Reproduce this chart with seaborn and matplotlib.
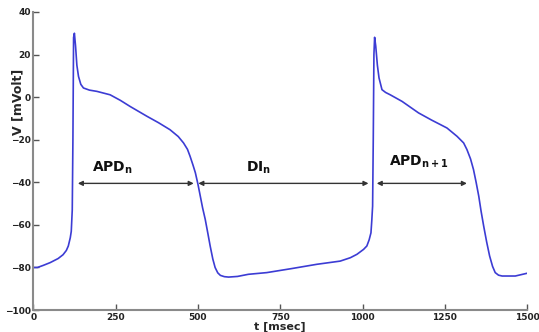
import matplotlib
matplotlib.use("Agg")
import matplotlib.pyplot as plt
import seaborn as sns
import pandas as pd

# Membrane potential trace (t in msec, V in mVolt)
t_ms = [0, 12, 30, 51, 75, 90, 100, 106, 112, 115, 118, 120, 122, 124.5, 128, 132, 137, 144, 152,
        170, 193, 233, 264, 294, 345, 380, 415, 440, 456, 468, 476, 485, 492, 500, 507, 514, 522,
        530, 537, 545, 552, 560, 568, 580, 593, 620, 653, 709, 785, 861, 932, 963, 983, 1003,
        1013, 1020, 1025.5, 1028, 1030.5, 1032.5, 1034.5, 1036.6, 1040, 1045, 1050, 1059, 1070,
        1084, 1120, 1170, 1210, 1236.5, 1256.5, 1287, 1307, 1317, 1328, 1337, 1345, 1353, 1360,
        1368, 1377, 1386, 1395, 1403, 1413, 1424, 1464, 1500]
v_mv = [-80, -80, -79, -77.7, -75.8, -74, -72, -69.9, -66, -63, -53, -20, 28, 30, 24, 15, 9.7, 6, 4.3,
        3.3, 2.7, 1.1, -1.5, -4.4, -9, -12, -15.3, -18.5, -21.5, -24.5, -27.8, -32, -35.5, -41, -46.5,
        -52, -57.4, -64, -69.9, -76, -80, -82.5, -83.7, -84.3, -84.5, -84.2, -83.2, -82.4, -80.5,
        -78.5, -77, -75.4, -73.8, -71.5, -69.9, -67, -63.7, -58, -51.2, -20, 20, 28.1, 24, 15, 9,
        3.5, 2.2, 1.1, -2, -7.4, -10.8, -12.9, -14.5, -18.4, -21.5, -24.6, -29, -34, -40, -46.5,
        -53.5, -60.6, -68, -74.6, -79.5, -82.4, -83.6, -84, -84, -82.7]

# Interval annotations
interval_labels = ["APD$_{n}$", "DI$_{n}$", "APD$_{n+1}$"]
interval_start = [135, 501, 1043]
interval_end = [487, 1018, 1317]
interval_v = [-40.5, -40.5, -40.5]
label_t = [240, 683, 1170]
label_v = [-35, -35, -32]

x_ticks = [0, 250, 500, 750, 1000, 1250, 1500]
y_ticks = [-100, -80, -60, -40, -20, 0, 20, 40]

sns.set_theme(style="white")
plt.rcParams["mathtext.default"] = "bf"
plt.rcParams["font.family"] = ["DejaVu Sans"]

fig = plt.figure(figsize=(5.39, 3.32), dpi=100)
ax = fig.add_axes([0.062, 0.066, 0.916, 0.898])

df = pd.DataFrame({"t": t_ms, "V": v_mv})
sns.lineplot(data=df, x="t", y="V", ax=ax, color="#3c3cd4", linewidth=1.2,
             estimator=None, sort=False)

for a, b, v in zip(interval_start, interval_end, interval_v):
    ax.annotate("", xy=(b, v), xytext=(a, v),
                arrowprops=dict(arrowstyle="<|-|>", color="#333333", lw=1.0,
                                mutation_scale=7, shrinkA=0, shrinkB=0))
for lab, x, y in zip(interval_labels, label_t, label_v):
    ax.text(x, y, lab, ha="center", va="baseline", fontsize=10, fontweight="bold", color="#111111")

ax.set_xlim(0, 1500)
ax.set_ylim(-100, 40)
ax.set_xticks(x_ticks)
ax.set_yticks(y_ticks)
ax.set_xticklabels([str(v) for v in x_ticks])
ax.set_yticklabels([str(v).replace("-", "\u2212") for v in y_ticks])
ax.tick_params(direction="in", length=4, width=1, color="#555555", labelsize=6.5,
               labelcolor="#222222", pad=2, left=True, bottom=True)
for lbl in ax.get_xticklabels() + ax.get_yticklabels():
    lbl.set_fontweight("bold")

for s in ["top", "right"]:
    ax.spines[s].set_visible(False)
for s in ["left", "bottom"]:
    ax.spines[s].set_color("#8a8a8a")
    ax.spines[s].set_linewidth(1.5)

ax.set_xlabel("t [msec]", fontsize=8, fontweight="bold", labelpad=0)
ax.set_ylabel("V [mVolt]", fontsize=9, fontweight="bold")
ax.yaxis.set_label_coords(-0.018, 0.70)
ax.grid(False)

fig.savefig("out.png", dpi=100)
